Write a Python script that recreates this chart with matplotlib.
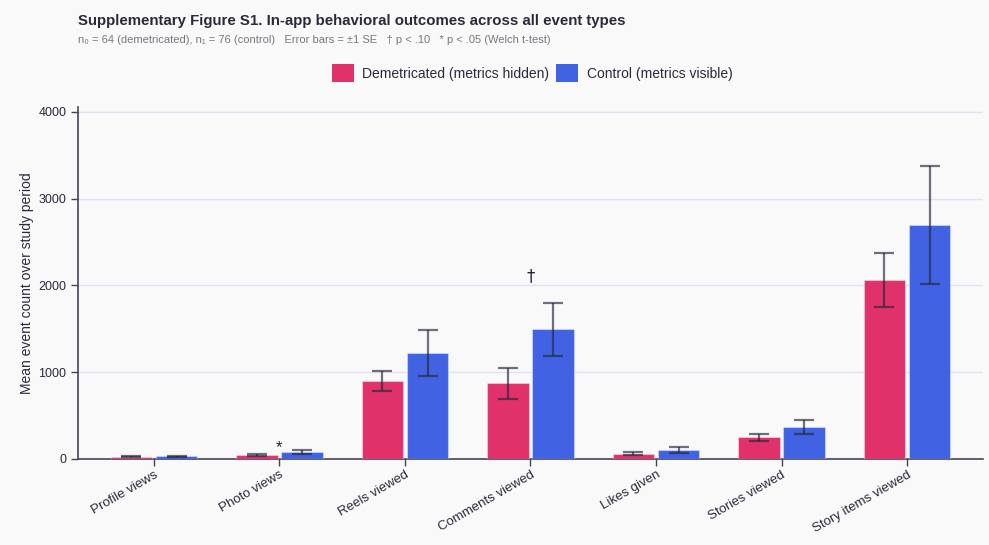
import matplotlib
matplotlib.use("Agg")
import matplotlib.pyplot as plt
import numpy as np
from matplotlib.patches import Patch

plt.rcParams['font.family'] = ['Liberation Sans', 'DejaVu Sans']

categories = ["Profile views", "Photo views", "Reels viewed", "Comments viewed",
              "Likes given", "Stories viewed", "Story items viewed"]
demetricated_mean = [27, 46, 898, 870, 62, 249, 2058]
demetricated_se = [6, 15, 120, 175, 21, 40, 310]
control_mean = [31, 83, 1220, 1492, 104, 369, 2695]
control_se = [5, 23, 265, 302, 32, 78, 680]
sig_marks = ["", "*", "", "†", "", "", ""]

series_labels = ["Demetricated (metrics hidden)", "Control (metrics visible)"]
title = "Supplementary Figure S1. In-app behavioral outcomes across all event types"
subtitle = "n₀ = 64 (demetricated), n₁ = 76 (control)   Error bars = ±1 SE   † p < .10   * p < .05 (Welch t-test)"
ylabel = "Mean event count over study period"

RED = "#E0316B"
BLUE = "#4163E3"
BG = "#F9F9FA"

fig = plt.figure(figsize=(9.89, 5.45), dpi=100, facecolor=BG)
ax = fig.add_axes([0.0789, 0.1578, 0.915, 0.645], facecolor=BG)

x = np.arange(len(categories))
w = 0.33
off = 0.18
err_kw = dict(ecolor=(0.15, 0.15, 0.22, 0.65), elinewidth=1.6, capsize=7, capthick=1.6)
ax.bar(x - off, demetricated_mean, w, color=RED, edgecolor=(1, 1, 1, 0.35), linewidth=0.8,
       yerr=demetricated_se, error_kw=err_kw, zorder=3)
ax.bar(x + off, control_mean, w, color=BLUE, edgecolor=(1, 1, 1, 0.35), linewidth=0.8,
       yerr=control_se, error_kw=err_kw, zorder=3)

for i, m in enumerate(sig_marks):
    if not m:
        continue
    top = max(demetricated_mean[i] + demetricated_se[i], control_mean[i] + control_se[i])
    dy = -3.5 if m == "*" else 13
    ax.annotate(m, (x[i], top), xytext=(0, dy), textcoords="offset points",
                ha="center", va="bottom", fontsize=12, color="#222233",
                family=['DejaVu Sans'] if m == "†" else ['Liberation Sans'])

ax.set_xlim(-0.605, len(categories) - 1 + 0.605)
ax.set_ylim(0, 4050)
ax.set_yticks([0, 1000, 2000, 3000, 4000])
ax.set_xticks(x)
ax.set_xticklabels(categories, rotation=30, ha="right", rotation_mode="anchor",
                   fontsize=9.5, color="#2a2a3a")
ax.tick_params(axis="y", labelsize=9, colors="#2a2a3a", length=5, width=1, color="#444455")
ax.tick_params(axis="x", length=5, width=1, color="#444455", pad=2)
ax.grid(axis="y", color="#E4E2F0", linewidth=1, zorder=0)
for s in ["top", "right"]:
    ax.spines[s].set_visible(False)
for s in ["left", "bottom"]:
    ax.spines[s].set_color("#444455")
    ax.spines[s].set_linewidth(1.2)
ax.set_ylabel(ylabel, fontsize=10, color="#2a2a3a", labelpad=3)

fig.text(0.0789, 0.962, title, fontsize=10.8, fontweight="bold", color="#2a2a3a", va="center")
fig.text(0.0789, 0.926, subtitle, fontsize=8, color="#777780", va="center")

handles = [Patch(facecolor=RED, edgecolor="none"), Patch(facecolor=BLUE, edgecolor="none")]
fig.legend(handles, series_labels, loc="center", bbox_to_anchor=(0.538, 0.866), ncol=2,
           frameon=False, fontsize=10, handlelength=1.6, handleheight=1.6,
           handletextpad=0.6, columnspacing=0.5, labelcolor="#2a2a3a")

fig.savefig("out.png", dpi=100, facecolor=BG)
